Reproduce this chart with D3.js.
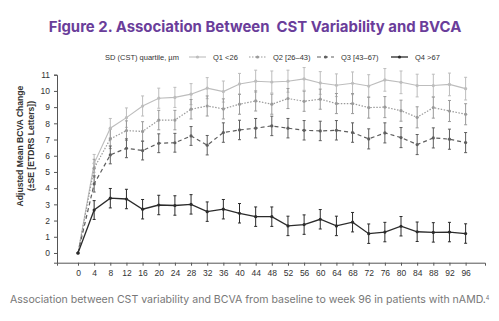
<!DOCTYPE html>
<meta charset="utf-8">
<script src="https://d3js.org/d3.v7.min.js"></script>
<style>
  body { margin: 0; background: #fff; }
</style>
<div id="chart"></div>
<script>

// weeks from baseline
var weeks = [0,4,8,12,16,20,24,28,32,36,40,44,48,52,56,60,64,68,72,76,80,84,88,92,96];

// adjusted mean BCVA change per quartile
var q1 = [0,5.53,7.70,8.35,9.07,9.55,9.60,9.80,10.17,9.96,10.43,10.60,10.55,10.60,10.74,10.49,10.35,10.47,10.30,10.68,10.53,10.33,10.33,10.40,10.14];
var q2 = [0,5.23,7.04,7.55,7.50,8.20,8.20,8.87,9.07,8.89,9.18,9.38,9.18,9.53,9.36,9.49,9.22,9.22,8.97,9.00,8.78,8.37,8.97,8.76,8.56];
var q3 = [0,4.26,6.05,6.46,6.32,6.77,6.80,7.22,6.65,7.43,7.59,7.70,7.84,7.70,7.57,7.53,7.57,7.43,7.04,7.41,7.12,6.69,7.10,7.02,6.81];
var q4 = [0,2.65,3.38,3.33,2.70,2.96,2.93,3.00,2.55,2.70,2.45,2.24,2.24,1.67,1.75,2.08,1.67,1.90,1.19,1.29,1.65,1.31,1.27,1.29,1.20];

// standard errors (roughly constant per group)
var se1 = [0,0.55,0.6,0.6,0.62,0.62,0.62,0.65,0.65,0.65,0.65,0.68,0.68,0.68,0.7,0.7,0.7,0.7,0.7,0.7,0.7,0.7,0.7,0.7,0.7];
var se2 = [0,0.55,0.6,0.6,0.6,0.6,0.6,0.6,0.62,0.62,0.62,0.62,0.62,0.62,0.62,0.62,0.62,0.62,0.65,0.65,0.65,0.65,0.65,0.65,0.65];
var se3 = [0,0.5,0.55,0.58,0.58,0.58,0.58,0.58,0.6,0.6,0.6,0.6,0.6,0.6,0.6,0.6,0.6,0.6,0.62,0.62,0.62,0.62,0.62,0.62,0.62];
var se4 = [0,0.58,0.6,0.6,0.6,0.6,0.6,0.6,0.6,0.6,0.6,0.6,0.6,0.6,0.6,0.6,0.6,0.6,0.6,0.6,0.6,0.6,0.6,0.6,0.6];

var groupNames = ["Q1 <26", "Q2 [26\u201343)", "Q3 [43\u201367)", "Q4 >67"];
var yTicks = [0,1,2,3,4,5,6,7,8,9,10,11];

var W = 499, H = 321;

var svg = d3.select("#chart")
  .append("svg")
    .attr("width", W)
    .attr("height", H)
    .style("font-family", "'Liberation Sans', Arial, sans-serif");

// scale a text's font size so it spans the given width
function fitWidth(sel, target) {
  var fs = parseFloat(sel.style("font-size"));
  var len = sel.node().getComputedTextLength();
  sel.style("font-size", (fs * target / len).toFixed(2) + "px");
}

// title
var title = svg.append("text")
  .attr("x", 255)
  .attr("y", 32)
  .attr("text-anchor", "middle")
  .style("font-family", "Inter, 'Open Sans', sans-serif")
  .style("font-weight", 700)
  .style("font-size", "15px")
  .style("fill", "#6a3d9a")
  .text("Figure 2. Association Between\u00a0 CST Variability and BVCA");
fitWidth(title, 413);

var x = d3.scaleLinear().domain([-5.2, 100.8]).range([57, 485]);
var y = d3.scaleLinear().domain([-0.6, 11]).range([262.7, 74.7]);

var series = [
  {name: groupNames[0], values: q1, se: se1, color: "#bdbdbd", dash: null, width: 1.1},
  {name: groupNames[1], values: q2, se: se2, color: "#9a9a9a", dash: "1.5,1.5", width: 1.2},
  {name: groupNames[2], values: q3, se: se3, color: "#5e5e5e", dash: "4,3", width: 1.2},
  {name: groupNames[3], values: q4, se: se4, color: "#2b2b2b", dash: null, width: 1.3}
];

// axes
var xAxis = svg.append("g")
  .attr("transform", "translate(0," + y(-0.6) + ")")
  .call(d3.axisBottom(x).tickValues(weeks).tickSize(3).tickPadding(4));
var yAxis = svg.append("g")
  .attr("transform", "translate(" + x(-5.2) + ",0)")
  .call(d3.axisLeft(y).tickValues(yTicks).tickSize(3).tickPadding(4));

[xAxis, yAxis].forEach(function(a) {
  a.select(".domain").attr("stroke", "#555").attr("stroke-width", 1);
  a.selectAll(".tick line").attr("stroke", "#555");
  a.selectAll(".tick text")
    .style("font-size", "8.5px")
    .style("font-family", "'Liberation Sans', Arial, sans-serif")
    .attr("fill", "#333");
});

// y axis title
var yt = svg.append("text")
  .attr("transform", "translate(23,146) rotate(-90)")
  .attr("text-anchor", "middle")
  .style("font-size", "8.6px")
  .style("font-weight", 700)
  .attr("fill", "#333");
yt.append("tspan").attr("x", 0).attr("dy", 0).text("Adjusted Mean BCVA Change");
yt.append("tspan").attr("x", 0).attr("dy", 11).text("(\u00b1SE [ETDRS Letters])");

var line = d3.line()
  .x(function(d, i) { return x(weeks[i]); })
  .y(function(d) { return y(d); });

// error bars, lines, points
series.forEach(function(s) {
  var g = svg.append("g");
  var bars = g.selectAll(".eb")
    .data(s.values.map(function(v, i) { return {w: weeks[i], v: v, e: s.se[i]}; }).filter(function(d) { return d.e > 0; }))
    .enter().append("g");
  bars.append("line")
    .attr("x1", function(d) { return x(d.w); })
    .attr("x2", function(d) { return x(d.w); })
    .attr("y1", function(d) { return y(d.v - d.e); })
    .attr("y2", function(d) { return y(d.v + d.e); })
    .attr("stroke", s.color).attr("stroke-width", 1);
  [-1, 1].forEach(function(sign) {
    bars.append("line")
      .attr("x1", function(d) { return x(d.w) - 1.5; })
      .attr("x2", function(d) { return x(d.w) + 1.5; })
      .attr("y1", function(d) { return y(d.v + sign * d.e); })
      .attr("y2", function(d) { return y(d.v + sign * d.e); })
      .attr("stroke", s.color).attr("stroke-width", 1);
  });
});

series.forEach(function(s) {
  svg.append("path")
    .attr("d", line(s.values))
    .attr("fill", "none")
    .attr("stroke", s.color)
    .attr("stroke-width", s.width)
    .attr("stroke-dasharray", s.dash);
  svg.selectAll(null)
    .data(s.values)
    .enter().append("circle")
      .attr("cx", function(d, i) { return x(weeks[i]); })
      .attr("cy", function(d) { return y(d); })
      .attr("r", 1.6)
      .attr("fill", s.color);
});

// legend
var legY = 57;
svg.append("text")
  .attr("x", 105).attr("y", legY + 2.5)
  .style("font-size", "7.5px").attr("fill", "#333")
  .text("SD (CST) quartile, \u00b5m");

var legX = [189, 249, 317, 391];
series.forEach(function(s, i) {
  var lg = svg.append("g").attr("transform", "translate(" + legX[i] + "," + legY + ")");
  lg.append("line")
    .attr("x1", 0).attr("x2", 17)
    .attr("stroke", s.color).attr("stroke-width", s.width)
    .attr("stroke-dasharray", s.dash);
  lg.append("circle").attr("cx", 8.5).attr("r", 1.6).attr("fill", s.color);
  lg.append("text")
    .attr("x", 24).attr("y", 2.5)
    .style("font-size", "7.5px").attr("fill", "#333")
    .text(s.name);
});

// caption
var cap = svg.append("text")
  .attr("x", 10).attr("y", 303)
  .style("font-family", "Inter, 'Open Sans', sans-serif")
  .style("font-size", "9.5px")
  .attr("fill", "#777");
var capMain = cap.append("tspan").text("Association between CST variability and BCVA from baseline to week 96 in patients with nAMD.");
var capLen = capMain.node().getComputedTextLength();
cap.style("font-size", (9.5 * 476 / capLen).toFixed(2) + "px");
cap.append("tspan").attr("dy", -3.5).style("font-size", "5.5px").text("4");

</script>
